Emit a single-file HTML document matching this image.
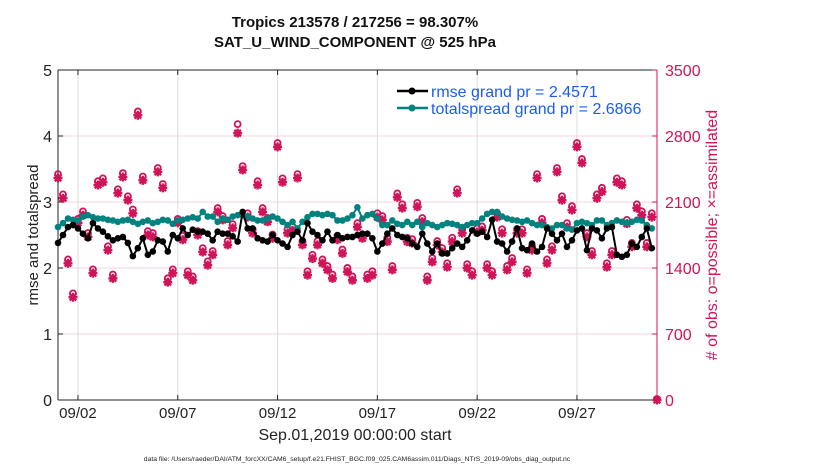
<!DOCTYPE html>
<html><head><meta charset="utf-8"><style>
body{margin:0;background:#fff;}
svg{display:block;font-family:"Liberation Sans",sans-serif;}
</style></head><body>
<svg id="chart" width="830" height="470"></svg>
<script>
const dateLabels=["09/02","09/07","09/12","09/17","09/22","09/27"];
const dateTickIdx=[4,24,44,64,84,104];
const leftTicks=[0,1,2,3,4,5];
const rightTicks=[0,700,1400,2100,2800,3500];
const rmse=[2.38,2.5,2.62,2.65,2.6,2.52,2.45,2.68,2.6,2.55,2.48,2.42,2.45,2.47,2.38,2.18,2.3,2.45,2.2,2.25,2.42,2.4,2.25,2.5,2.45,2.6,2.5,2.58,2.55,2.55,2.52,2.42,2.55,2.52,2.52,2.48,2.4,2.85,2.6,2.6,2.45,
2.42,2.4,2.5,2.42,2.37,2.32,2.5,2.55,2.42,2.68,2.55,2.5,2.42,2.55,2.42,2.5,2.45,2.47,2.47,2.5,2.52,2.52,2.45,2.25,2.37,2.52,2.6,2.5,2.47,2.45,2.37,2.32,2.52,2.37,2.25,2.37,2.22,2.22,2.3,2.37,2.32,
2.42,2.57,2.52,2.55,2.47,2.73,2.4,2.37,2.25,2.4,2.6,2.3,2.27,2.37,2.25,2.32,2.6,2.52,2.42,2.52,2.32,2.42,2.57,2.6,2.27,2.6,2.57,2.45,2.6,2.62,2.2,2.17,2.2,2.37,2.32,2.47,2.6,2.3];
const spread=[2.62,2.68,2.75,2.73,2.72,2.78,2.8,2.77,2.75,2.75,2.73,2.72,2.7,2.72,2.73,2.7,2.67,2.7,2.72,2.68,2.7,2.73,2.72,2.67,2.72,2.73,2.75,2.77,2.75,2.85,2.78,2.78,2.7,2.75,2.73,2.78,2.8,2.8,2.78,2.75,2.72,
2.72,2.75,2.78,2.75,2.7,2.65,2.7,2.6,2.7,2.77,2.82,2.82,2.8,2.82,2.8,2.72,2.72,2.75,2.8,2.92,2.75,2.8,2.82,2.75,2.65,2.65,2.72,2.67,2.65,2.7,2.65,2.7,2.62,2.68,2.65,2.62,2.65,2.68,2.67,2.65,2.62,
2.65,2.68,2.68,2.75,2.82,2.85,2.85,2.78,2.75,2.73,2.72,2.7,2.72,2.68,2.65,2.65,2.62,2.6,2.65,2.65,2.6,2.58,2.68,2.7,2.68,2.65,2.72,2.72,2.65,2.68,2.72,2.7,2.68,2.7,2.73,2.72,2.65,2.6];
const assimilated=[2355,2140,1450,1090,1880,1960,1730,1345,2280,2310,1590,1290,2195,2365,2120,1980,3020,2330,1750,1730,2420,2250,1250,1345,1880,1700,1325,1270,1750,1570,1430,1540,1995,1910,1645,1825,2830,2440,1940,1770,2280,1995,1890,1715,2685,2310,1770,1800,2355,1645,1325,1500,1645,1450,1380,1290,1700,1555,1360,1270,1835,1715,1290,1325,1940,1910,1680,1380,2150,2035,1680,1665,2050,1890,1270,1465,1645,1570,1410,1680,2195,1770,1400,1325,1780,1800,1400,1325,1940,1770,1380,1465,1770,1770,1345,1590,2355,1880,1450,1590,2420,2120,1835,2015,2685,2515,1730,1540,2140,2210,1410,1540,2310,2280,1870,1625,2035,1960,1625,1940,0];
const possible=[2385,2170,1480,1120,1910,1990,1760,1375,2310,2340,1620,1320,2225,2395,2150,2010,3050,2360,1780,1760,2450,2280,1280,1375,1910,1730,1355,1300,1780,1600,1460,1570,2025,1940,1675,1855,2915,2470,1970,1800,2310,2025,1920,1745,2715,2340,1800,1830,2385,1675,1355,1530,1675,1480,1410,1320,1730,1585,1390,1300,1865,1745,1320,1355,1970,1940,1710,1410,2180,2065,1710,1695,2080,1920,1300,1495,1675,1600,1440,1710,2225,1800,1430,1355,1810,1830,1430,1355,1970,1800,1410,1495,1800,1800,1375,1620,2385,1910,1480,1620,2450,2150,1865,2045,2715,2545,1760,1570,2170,2240,1440,1570,2340,2310,1900,1655,2065,1990,1655,1970,0];

const NS="http://www.w3.org/2000/svg";
const svg=document.getElementById('chart');
const X0=58,X1=657,Y0=400,Y1=70;
const xi=i=>58+i*4.99;
const yl=v=>Y0-(v/5)*(Y0-Y1);
const yr=v=>Y0-(v/3500)*(Y0-Y1);
const RED="#d0145a",TEAL="#00827f",BLUE="#1a5cf5";
function el(tag,attrs,parent){const e=document.createElementNS(NS,tag);for(const k in attrs)e.setAttribute(k,attrs[k]);(parent||svg).appendChild(e);return e;}
function txt(s,attrs,parent){const e=el('text',attrs,parent);e.textContent=s;return e;}

const grid=el('g',{});


rightTicks.forEach(t=>{if(t>0&&t<3500)el('line',{x1:X0,x2:X1,y1:yr(t),y2:yr(t),stroke:"#f0d4de","stroke-width":1},grid);});
dateTickIdx.forEach(i=>el('line',{x1:xi(i),x2:xi(i),y1:Y1,y2:Y0,stroke:"#dcdcdc","stroke-width":1},grid));

const ax=el('g',{});


el('line',{x1:X0,x2:X1,y1:Y1,y2:Y1,stroke:"#222"},ax);
el('line',{x1:X0,x2:X1,y1:Y0,y2:Y0,stroke:"#222"},ax);
el('line',{x1:X0,x2:X0,y1:Y1,y2:Y0,stroke:"#222"},ax);
el('line',{x1:X1,x2:X1,y1:Y1,y2:Y0,stroke:RED},ax);
leftTicks.forEach(t=>{const y=yl(t);el('line',{x1:X0,x2:X0+5,y1:y,y2:y,stroke:"#222"},ax);
 const l=txt(String(t),{x:X0-6,y:y+6,"font-size":16,"text-anchor":"end",fill:"#222"},ax);
 
 });
rightTicks.forEach(t=>{const y=yr(t);el('line',{x1:X1-5,x2:X1,y1:y,y2:y,stroke:RED},ax);
 const l=txt(String(t),{x:X1+8,y:y+6,"font-size":16,fill:RED},ax);
 
 });
dateTickIdx.forEach((i,k)=>{const x=xi(i);el('line',{x1:x,x2:x,y1:Y0-5,y2:Y0,stroke:"#222"},ax);el('line',{x1:x,x2:x,y1:Y1,y2:Y1+5,stroke:"#222"},ax);
 const l=txt(dateLabels[k],{x:x,y:418,"font-size":15,"text-anchor":"middle",fill:"#222"},ax);
 
 });

const obs=el('g',{});


assimilated.forEach((v,i)=>{const x=i<120?xi(i):X1;const y=yr(v);
 const g=el('g',{},obs);
 
 
 el('circle',{cx:x,cy:yr(possible[i])-1,r:3,fill:"none",stroke:RED,"stroke-width":1.8},g);
 el('path',{d:`M${x-4.5} ${y}H${x+4.5}M${x} ${y-4.5}V${y+4.5}M${x-3.3} ${y-3.3}L${x+3.3} ${y+3.3}M${x-3.3} ${y+3.3}L${x+3.3} ${y-3.3}`,stroke:RED,"stroke-width":2.4},g);
});

function series(vals,color,name,r){
 const g=el('g',{});
 
 
 el('polyline',{points:vals.map((v,i)=>xi(i)+","+yl(v)).join(" "),fill:"none",stroke:color,"stroke-width":2},g);
 vals.forEach((v,i)=>el('circle',{cx:xi(i),cy:yl(v),r:r,fill:color},g));
}
series(spread,TEAL,'totalspread-series',3.3);
series(rmse,"#000",'rmse-series',3.3);

const lg=el('g',{});


[["rmse grand pr = 2.4571","#000",91],["totalspread grand pr = 2.6866",TEAL,108]].forEach(([s,c,y])=>{
 const e=el('g',{},lg);
 
 
 el('line',{x1:397,x2:428,y1:y,y2:y,stroke:c,"stroke-width":2.5},e);
 el('circle',{cx:412,cy:y,r:3.5,fill:c},e);
 txt(s,{x:431,y:y+6,"font-size":16,fill:BLUE},e);
});

const t1=txt("Tropics 213578 / 217256 = 98.307%",{x:355,y:27,"font-size":15,"font-weight":"bold","text-anchor":"middle",fill:"#111"});


const t2=txt("SAT_U_WIND_COMPONENT @ 525 hPa",{x:355,y:47,"font-size":15,"font-weight":"bold","text-anchor":"middle",fill:"#111"});


const yt=txt("rmse and totalspread",{x:0,y:0,"font-size":15,"text-anchor":"middle",fill:"#222",transform:"translate(38,235) rotate(-90)"});


const yt2=txt("# of obs: o=possible; \u00d7=assimilated",{x:0,y:0,"font-size":16,"text-anchor":"middle",fill:RED,transform:"translate(717,235) rotate(-90)"});


const xt=txt("Sep.01,2019 00:00:00 start",{x:355,y:440,"font-size":16,"text-anchor":"middle",fill:"#222"});


const fn=txt("data file: /Users/raeder/DAI/ATM_forcXX/CAM6_setup/f.e21.FHIST_BGC.f09_025.CAM6assim.011/Diags_NTrS_2019-09/obs_diag_output.nc",{x:357,y:461,"font-size":6.8,"text-anchor":"middle",fill:"#222"});


</script>
</body></html>
